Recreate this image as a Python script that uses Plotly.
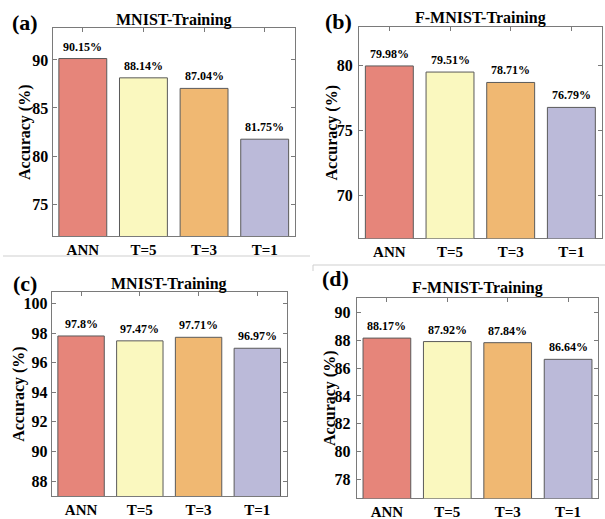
import plotly.graph_objects as go

categories = ["ANN", "T=5", "T=3", "T=1"]
acc_a = [90.15, 88.14, 87.04, 81.75]
acc_b = [79.98, 79.51, 78.71, 76.79]
acc_c = [97.8, 97.47, 97.71, 96.97]
acc_d = [88.17, 87.92, 87.84, 86.64]
titles = ["MNIST-Training", "F-MNIST-Training", "MNIST-Training", "F-MNIST-Training"]
panel_tags = ["(a)", "(b)", "(c)", "(d)"]
yticks_a = [75, 80, 85, 90]
yticks_b = [70, 75, 80]
yticks_c = [88, 90, 92, 94, 96, 98, 100]
yticks_d = [78, 80, 82, 84, 86, 88, 90]

bar_colors = ["#E6857A", "#FAF8BF", "#F0B872", "#BBBAD9"]
W, H = 605, 519
FONT = "Liberation Serif"

def px(x):
    return x / W

def py(y):
    return 1 - y / H

panels = [
    dict(vals=acc_a, ticks=yticks_a, rng=[71.67, 93.33], x=(52.5, 295), y=(28, 236),
         tag=(25, 23), title_y=20, ylab_x=25, standoff=0),
    dict(vals=acc_b, ticks=yticks_b, rng=[66.72, 83.0], x=(359, 601.7), y=(26.7, 238.3),
         tag=(338, 22), title_y=18, ylab_x=331, standoff=2),
    dict(vals=acc_c, ticks=yticks_c, rng=[86.99, 100.79], x=(51.7, 286.7), y=(291.7, 496),
         tag=(25, 283), title_y=284, ylab_x=19, standoff=0),
    dict(vals=acc_d, ticks=yticks_d, rng=[76.63, 91.08], x=(356.7, 598.3), y=(297.7, 498.3),
         tag=(335, 278), title_y=288, ylab_x=330, standoff=2),
]

fig = go.Figure()
annotations = []
frame = "#7a7a7a"

for i, p in enumerate(panels):
    xa = "x" if i == 0 else f"x{i+1}"
    ya = "y" if i == 0 else f"y{i+1}"
    fig.add_trace(go.Bar(
        x=categories, y=p["vals"], xaxis=xa, yaxis=ya,
        marker=dict(color=bar_colors, line=dict(color="#5a5a5a", width=1)),
        width=0.79, showlegend=False, hoverinfo="x+y",
    ))
    for c, v in zip(categories, p["vals"]):
        annotations.append(dict(
            x=c, y=v, xref=xa, yref=ya, text=f"{v}%", showarrow=False,
            yanchor="bottom", yshift=3,
            font=dict(family=FONT, size=12, color="black", weight="bold"),
        ))
    x0, x1 = p["x"]
    y0, y1 = p["y"]
    axkw = "xaxis" if i == 0 else f"xaxis{i+1}"
    aykw = "yaxis" if i == 0 else f"yaxis{i+1}"
    fig.layout[axkw] = dict(
        domain=[px(x0), px(x1)], anchor=ya, type="category",
        range=[-0.5, 3.5], showline=True, linecolor=frame, linewidth=1,
        mirror="ticks", ticks="inside", ticklen=4, tickcolor=frame,
        tickfont=dict(family=FONT, size=15, color="black", weight="bold"),
        showgrid=False, layer="below traces", fixedrange=True,
    )
    fig.layout[aykw] = dict(
        domain=[py(y1), py(y0)], anchor=xa, range=p["rng"],
        tickvals=p["ticks"], showline=True, linecolor=frame, linewidth=1,
        mirror="ticks", ticks="inside", ticklen=4, tickcolor=frame,
        ticklabelstandoff=p["standoff"],
        tickfont=dict(family=FONT, size=16, color="black", weight="bold"),
        showgrid=False, zeroline=False, layer="below traces", fixedrange=True,
    )
    annotations.append(dict(
        x=px((x0 + x1) / 2), y=py(p["title_y"]), xref="paper", yref="paper",
        text=titles[i], showarrow=False, xanchor="center", yanchor="middle",
        font=dict(family=FONT, size=16, color="black", weight="bold"),
    ))
    annotations.append(dict(
        x=px(p["tag"][0]), y=py(p["tag"][1]), xref="paper", yref="paper",
        text=panel_tags[i], showarrow=False, xanchor="center", yanchor="middle",
        font=dict(family=FONT, size=22, color="black", weight="bold"),
    ))
    annotations.append(dict(
        x=px(p["ylab_x"]), y=py((y0 + y1) / 2), xref="paper", yref="paper",
        text="Accuracy (%)", showarrow=False, textangle=-90,
        xanchor="center", yanchor="middle",
        font=dict(family=FONT, size=16, color="black", weight="bold"),
    ))

shapes = [
    dict(type="line", xref="paper", yref="paper", x0=px(3), x1=px(310), y0=py(256), y1=py(256),
         line=dict(color="#cfcfcf", width=1)),
    dict(type="line", xref="paper", yref="paper", x0=px(313), x1=px(605), y0=py(265), y1=py(265),
         line=dict(color="#cfcfcf", width=1)),
    dict(type="line", xref="paper", yref="paper", x0=px(313), x1=px(313), y0=py(265), y1=py(271),
         line=dict(color="#cfcfcf", width=1)),
]

fig.update_layout(
    width=W, height=H, margin=dict(l=0, r=0, t=0, b=0),
    paper_bgcolor="white", plot_bgcolor="white",
    annotations=annotations, shapes=shapes, bargap=0.2,
    font=dict(family=FONT, color="black"),
)

fig.write_html("out.html", config={"displayModeBar": False},
               post_script="document.body.style.margin='0';document.body.style.overflow='hidden';")
